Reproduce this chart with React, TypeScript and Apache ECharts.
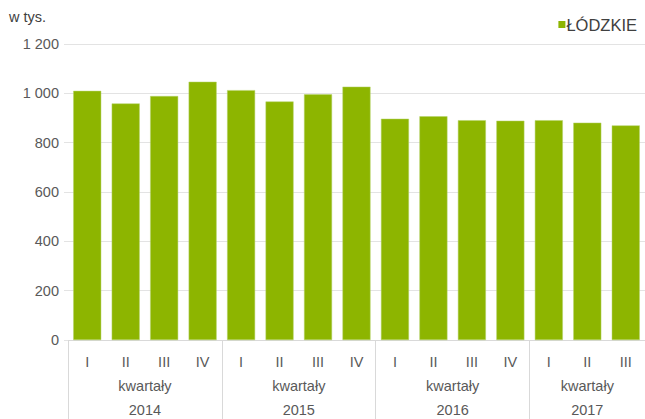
import React, { useEffect, useRef } from "react";
import * as echarts from "echarts";

const quarters = ["I", "II", "III", "IV", "I", "II", "III", "IV", "I", "II", "III", "IV", "I", "II", "III"];
const values = [1010, 959, 989, 1047, 1013, 967, 996, 1027, 897, 907, 891, 889, 891, 881, 870];
const years = ["2014", "2015", "2016", "2017"];
const groupCenters = [2, 6, 10, 13.5];
const groupBounds = [0, 4, 8, 12, 15];
const yTicks = [0, 200, 400, 600, 800, 1000, 1200];
const seriesName = "ŁÓDZKIE";
const unitLabel = "w tys.";
const groupLabel = "kwartały";

const FONT = "'Liberation Sans', Arial, sans-serif";
const GREEN = "#8db500";
const TEXT = "#595959";
const GRID = "#e3e3e3";
const FS = 14.5;

export default function App() {
  const ref = useRef<HTMLDivElement>(null);
  useEffect(() => {
    if (!ref.current) return;
    const chart = echarts.init(ref.current, null, { renderer: "svg" });
    const fmtY = (v: number) => {
      const s = String(v);
      return s.length > 3 ? s.slice(0, s.length - 3) + " " + s.slice(-3) : s;
    };
    chart.setOption({
      animation: false,
      textStyle: { fontFamily: FONT },
      legend: {
        right: 3,
        top: 11,
        itemWidth: 7,
        itemHeight: 7,
        itemGap: 4,
        icon: "rect",
        itemStyle: { borderWidth: 0, color: GREEN },
        textStyle: { fontSize: 16.5, color: "#404040", fontFamily: FONT, padding: [0, 0, 0, -4] },
        data: [seriesName],
      },
      graphic: [
        {
          type: "text",
          left: 9,
          top: 9,
          style: { text: unitLabel, fontSize: FS, fill: "#404040", fontFamily: FONT },
        },
      ],
      grid: { left: 68, right: 0, top: 44, bottom: 79, containLabel: false },
      xAxis: [
        {
          type: "category",
          data: quarters,
          axisLine: { show: true, lineStyle: { color: "#d9d9d9", width: 1 } },
          axisTick: { show: false },
          axisLabel: { margin: 14, fontSize: FS, color: TEXT, fontFamily: FONT, interval: 0 },
        },
        {
          type: "value",
          position: "bottom",
          min: 0,
          max: 15,
          axisLine: { show: false },
          splitLine: { show: false },
          axisTick: {
            show: true,
            customValues: groupBounds,
            length: 79,
            lineStyle: { color: "#d9d9d9", width: 1 },
          },
          axisLabel: {
            customValues: groupCenters,
            formatter: () => groupLabel,
            margin: 38,
            fontSize: FS,
            color: TEXT,
            fontFamily: FONT,
          },
        },
        {
          type: "value",
          position: "bottom",
          min: 0,
          max: 15,
          axisLine: { show: false },
          splitLine: { show: false },
          axisTick: { show: false },
          axisLabel: {
            customValues: groupCenters,
            formatter: (v: number) => years[groupCenters.indexOf(v)] ?? "",
            margin: 62,
            fontSize: FS,
            color: TEXT,
            fontFamily: FONT,
          },
        },
      ],
      yAxis: {
        type: "value",
        min: yTicks[0],
        max: yTicks[yTicks.length - 1],
        interval: 200,
        axisLine: { show: false },
        axisTick: { show: true, length: 4, lineStyle: { color: GRID } },
        splitLine: { show: true, lineStyle: { color: GRID, width: 1 } },
        axisLabel: {
          formatter: fmtY,
          fontSize: FS,
          color: TEXT,
          margin: 9,
          fontFamily: FONT,
          padding: [5, 0, 0, 0],
        },
      },
      series: [
        {
          name: seriesName,
          type: "bar",
          data: values,
          barWidth: 28,
          itemStyle: { color: GREEN, borderColor: "#b5d36a", borderWidth: 0.5 },
        },
      ],
    });
    return () => chart.dispose();
  }, []);
  return (
    <div
      ref={ref}
      style={{ position: "fixed", left: 0, top: 0, width: 645, height: 419, background: "#fff" }}
    />
  );
}
